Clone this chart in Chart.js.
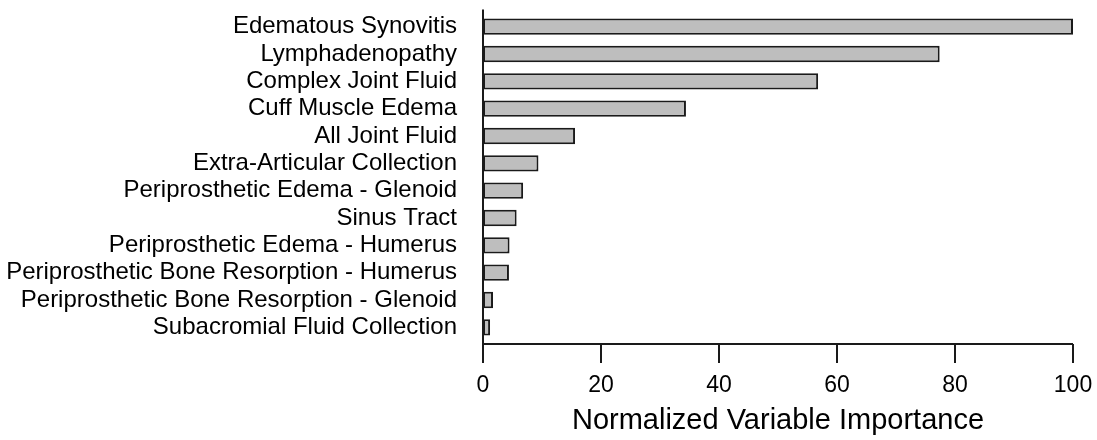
<!DOCTYPE html>
<html>
<head>
<meta charset="utf-8">
<title>Normalized Variable Importance</title>
<script src="https://cdn.jsdelivr.net/npm/chart.js@4/dist/chart.umd.min.js"></script>
<style>
  html, body { margin: 0; padding: 0; background: #fff; }
  #wrap { width: 1097px; height: 440px; position: relative; }
</style>
</head>
<body>
<div id="wrap"><canvas id="importanceChart"></canvas></div>
<script>
// variables, top to bottom
const categories = [
    'Edematous Synovitis',
    'Lymphadenopathy',
    'Complex Joint Fluid',
    'Cuff Muscle Edema',
    'All Joint Fluid',
    'Extra-Articular Collection',
    'Periprosthetic Edema - Glenoid',
    'Sinus Tract',
    'Periprosthetic Edema - Humerus',
    'Periprosthetic Bone Resorption - Humerus',
    'Periprosthetic Bone Resorption - Glenoid',
    'Subacromial Fluid Collection'
];
const importance = [100, 77.4, 56.8, 34.4, 15.6, 9.4, 6.8, 5.7, 4.5, 4.4, 1.7, 1.2];
const xTicks = [0, 20, 40, 60, 80, 100];

const fontFamily = '"Liberation Sans", Arial, sans-serif';
const ink = '#1a1a1a';

// no extra room for half labels, the layout padding decides the plot box
function noScalePadding(scale) {
    scale.paddingTop = 0;
    scale.paddingBottom = 0;
    scale.paddingLeft = 0;
    scale.paddingRight = 0;
}

// axis lines drawn like the R base plot: detached x axis, long y axis
const baseAxes = {
    id: 'baseAxes',
    afterDraw(chart) {
        const { ctx, chartArea, scales } = chart;
        const x = scales.x;
        const x0 = x.getPixelForValue(0);
        const yAxis = chartArea.bottom + 3;
        ctx.save();
        ctx.strokeStyle = ink;
        ctx.lineWidth = 2;
        ctx.beginPath();
        ctx.moveTo(x0, chartArea.top - 3.5);
        ctx.lineTo(x0, yAxis + 19);
        ctx.moveTo(x0, yAxis);
        ctx.lineTo(x.getPixelForValue(100), yAxis);
        xTicks.forEach(v => {
            const px = x.getPixelForValue(v);
            ctx.moveTo(px, yAxis);
            ctx.lineTo(px, yAxis + 19);
        });
        ctx.stroke();
        ctx.restore();
    }
};

const ctx = document.getElementById('importanceChart').getContext('2d');
new Chart(ctx, {
    type: 'bar',
    data: {
        labels: categories,
        datasets: [{
            label: 'Normalized Variable Importance',
            data: importance,
            backgroundColor: '#bebebe',
            borderColor: ink,
            borderWidth: 2,
            borderSkipped: false,
            barPercentage: 0.6,
            categoryPercentage: 1
        }]
    },
    options: {
        indexAxis: 'y',
        responsive: true,
        maintainAspectRatio: false,
        animation: false,
        layout: { padding: { top: 13, right: 24, bottom: 0, left: 0 } },
        plugins: {
            legend: { display: false },
            tooltip: { enabled: false }
        },
        scales: {
            x: {
                min: 0,
                max: 100,
                afterBuildTicks(scale) {
                    scale.ticks = xTicks.map(v => ({ value: v }));
                },
                afterFit(scale) {
                    scale.height = 99;
                    noScalePadding(scale);
                },
                grid: { display: false, drawTicks: false },
                border: { display: false },
                ticks: {
                    padding: 31,
                    maxRotation: 0,
                    color: '#000',
                    font: { family: fontFamily, size: 23 }
                },
                title: {
                    display: true,
                    text: 'Normalized Variable Importance',
                    color: '#000',
                    font: { family: fontFamily, size: 29 },
                    padding: { top: 0, bottom: 2 }
                }
            },
            y: {
                afterFit(scale) {
                    scale.width = 483;
                    noScalePadding(scale);
                },
                grid: { display: false, drawTicks: false },
                border: { display: false },
                ticks: {
                    padding: 26,
                    autoSkip: false,
                    color: '#000',
                    font: { family: fontFamily, size: 24 }
                }
            }
        }
    },
    plugins: [baseAxes]
});
</script>
</body>
</html>
